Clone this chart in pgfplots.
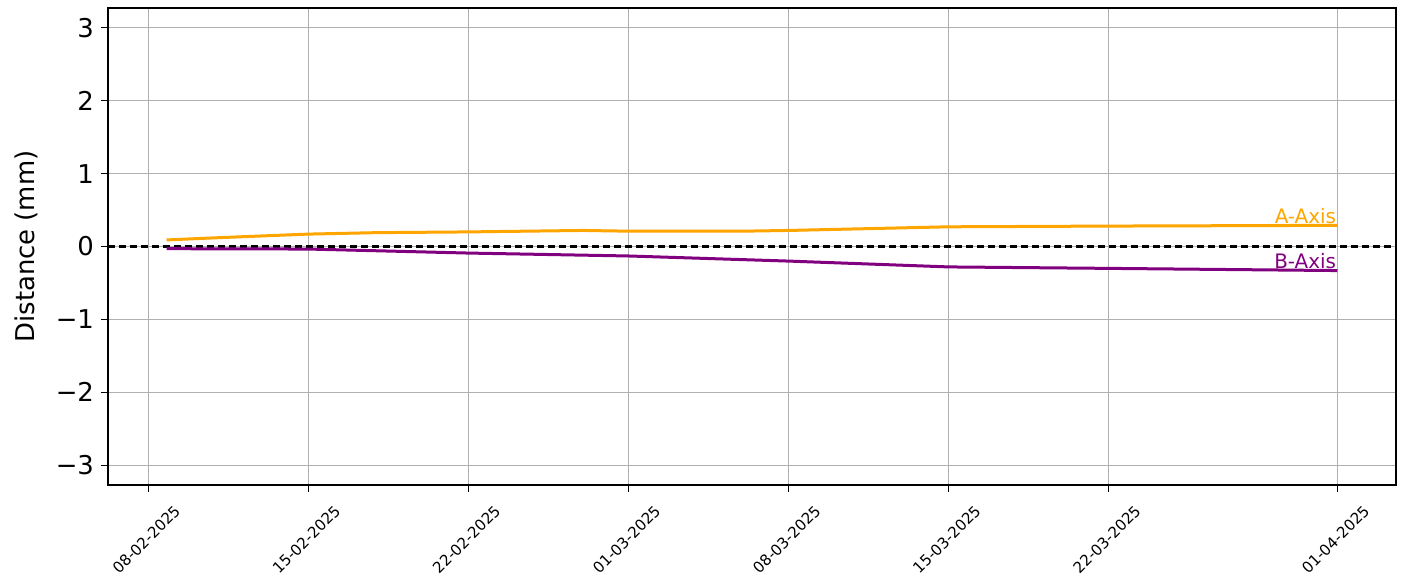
\documentclass[border=0pt]{standalone}
\usepackage{pgfplots}
\pgfplotsset{compat=1.18}
\usepackage{fontspec}
\setmainfont{DejaVu Sans}
\definecolor{mplorange}{HTML}{FFA500}
\definecolor{mplpurple}{HTML}{800080}
\definecolor{gridgray}{HTML}{B0B0B0}
\newcommand{\rl}[1]{\rotatebox{45}{#1}}
\begin{document}
\begin{tikzpicture}
\useasboundingbox (-54bp,-50bp) rectangle (648.5bp,242.5bp);
\begin{axis}[
  at={(0,0)}, anchor=south west,
  scale only axis,
  width=644bp, height=238.5bp,
  xmin=-1.76, xmax=54.56,
  ymin=-3.27, ymax=3.27,
  xtick={0,7,14,21,28,35,42,52},
  xticklabels={\rl{08-02-2025},\rl{15-02-2025},\rl{22-02-2025},\rl{01-03-2025},\rl{08-03-2025},\rl{15-03-2025},\rl{22-03-2025},\rl{01-04-2025}},
  ytick={-3,-2,-1,0,1,2,3},
  yticklabels={−3,−2,−1,0,1,2,3},
  /pgf/number format/assume math mode=true,
  xtick pos=bottom, ytick pos=left,
  tick align=outside,
  major tick length=3.5bp,
  tick style={black, line width=0.5bp},
  axis line style={black, line width=0.6bp},
  grid=major,
  major grid style={gridgray, line width=0.5bp},
  xticklabel style={font=\fontsize{7.6}{8}\selectfont, anchor=north, inner sep=0pt, yshift=-6bp, xshift=-1bp},
  yticklabel style={font=\fontsize{13}{15}\selectfont},
  ylabel={Distance (mm)},
  ylabel style={font=\fontsize{13}{15}\selectfont, yshift=2bp},
  clip=true,
]
\addplot[black, line width=1.1bp, dash pattern=on 3.7bp off 1.8bp, forget plot] coordinates {(-1.76,0) (54.56,0)};
\addplot[mplorange, line width=1.5bp] coordinates {
(0.8,0.09) (3,0.12) (7,0.17) (10,0.19) (14,0.20) (19,0.22) (21,0.21) (26,0.21) (28,0.22) (35,0.27) (42,0.28) (52,0.29)
};
\addplot[mplpurple, line width=1.5bp] coordinates {
(0.8,-0.03) (7,-0.035) (14,-0.09) (21,-0.13) (28,-0.20) (35,-0.28) (42,-0.30) (52,-0.33)
};
\node[anchor=south east, text=mplorange, font=\fontsize{10}{12}\selectfont, inner sep=0.5bp] at (axis cs:52,0.29) {A-Axis};
\node[anchor=south east, text=mplpurple, font=\fontsize{10}{12}\selectfont, inner sep=0.5bp] at (axis cs:52,-0.33) {B-Axis};
\end{axis}
\end{tikzpicture}
\end{document}
